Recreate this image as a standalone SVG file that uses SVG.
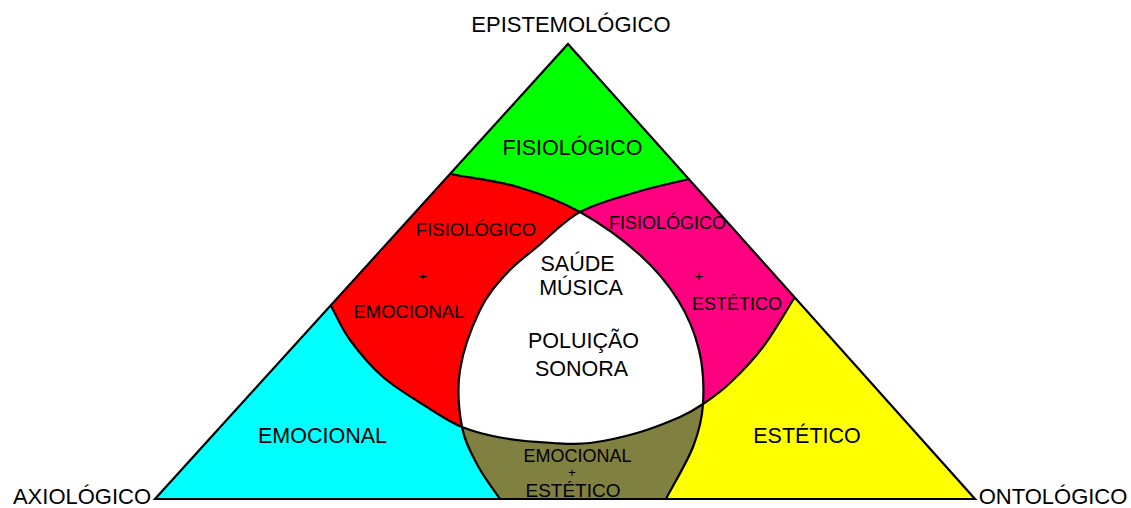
<svg xmlns="http://www.w3.org/2000/svg" width="1131" height="508" viewBox="0 0 1131 508">
<style>
text{font-family:"Liberation Sans",Arial,sans-serif;fill:#000;text-anchor:middle}
.big{font-size:21.5px}
.vert{font-size:22px}
.sm{font-size:18.5px}
.plus{font-size:15px}
.edge{fill:none;stroke:#000;stroke-width:2.2}
</style>
<defs>
<path id="pX" d="M0,560 L0,120 L400,163 L451,174 C470.7,178 496.5,180.7 518,187 C539.5,193.3 559.7,200.7 580,212 C600.3,223.3 623.7,240.3 640,255 C656.3,269.7 668.2,284.2 678,300 C687.8,315.8 694.8,332.7 699,350 C703.2,367.3 704,387.8 703,404 C702,420.2 699.2,431.2 693,447 C686.8,462.8 674,483.5 666,499 L645,540 Z"/>
<path id="pY" d="M1131,560 L1131,120 L740,166 L689,179 C671.8,183.3 655.2,186.5 637,192 C618.8,197.5 596.7,202.8 580,212 C563.3,221.2 549.2,236.8 537,247 C524.8,257.2 516.5,262.5 507,273 C497.5,283.5 487.8,293.8 480,310 C472.2,326.2 463,350.5 460,370 C457,389.5 459,411 462,427 C465,443 471.7,454 478,466 C484.3,478 492.7,488 500,499 L522,532 Z"/>
<path id="pZ" d="M0,0 L312,272 L331,306 C337.3,317.3 341.3,328.2 350,340 C358.7,351.8 370.2,365.8 383,377 C395.8,388.2 413.8,398.7 427,407 C440.2,415.3 449.3,421.8 462,427 C474.7,432.2 487.8,435.3 503,438 C518.2,440.7 538.5,442.2 553,443 C567.5,443.8 576,444.7 590,443 C604,441.3 622,437.3 637,433 C652,428.7 669,421.8 680,417 C691,412.2 694.7,409.7 703,404 C711.3,398.3 720,392.7 730,383 C740,373.5 752.2,361.3 763,347 C773.8,332.7 784.3,313.7 795,297 L827,247 L1131,0 Z"/>
<clipPath id="tri"><path d="M568,44 L975,499 L155,499 Z"/></clipPath>
<clipPath id="cz"><use href="#pZ"/></clipPath>
<clipPath id="cy"><use href="#pY"/></clipPath>
</defs>
<g id="regions" clip-path="url(#tri)">
<use id="emocional" href="#pX" fill="#00FFFF"/>
<use id="estetico" href="#pY" fill="#FFFF00"/>
<use id="fisiologico" href="#pZ" fill="#00FF00"/>
<g id="fisio-emocional" clip-path="url(#cz)"><use href="#pX" fill="#FF0000"/></g>
<g id="fisio-estetico" clip-path="url(#cz)"><use href="#pY" fill="#FF0080"/></g>
<g id="emocional-estetico" clip-path="url(#cy)"><use href="#pX" fill="#808040"/></g>
<g id="centro" clip-path="url(#cy)"><g clip-path="url(#cz)"><use href="#pX" fill="#FFFFFF"/></g></g>
</g>
<g id="connectors">
<path class="edge" d="M451,174 C470.7,178 496.5,180.7 518,187 C539.5,193.3 559.7,200.7 580,212 C600.3,223.3 623.7,240.3 640,255 C656.3,269.7 668.2,284.2 678,300 C687.8,315.8 694.8,332.7 699,350 C703.2,367.3 704,387.8 703,404 C702,420.2 699.2,431.2 693,447 C686.8,462.8 674,483.5 666,499"/>
<path class="edge" d="M689,179 C671.8,183.3 655.2,186.5 637,192 C618.8,197.5 596.7,202.8 580,212 C563.3,221.2 549.2,236.8 537,247 C524.8,257.2 516.5,262.5 507,273 C497.5,283.5 487.8,293.8 480,310 C472.2,326.2 463,350.5 460,370 C457,389.5 459,411 462,427 C465,443 471.7,454 478,466 C484.3,478 492.7,488 500,499"/>
<path class="edge" d="M331,306 C337.3,317.3 341.3,328.2 350,340 C358.7,351.8 370.2,365.8 383,377 C395.8,388.2 413.8,398.7 427,407 C440.2,415.3 449.3,421.8 462,427 C474.7,432.2 487.8,435.3 503,438 C518.2,440.7 538.5,442.2 553,443 C567.5,443.8 576,444.7 590,443 C604,441.3 622,437.3 637,433 C652,428.7 669,421.8 680,417 C691,412.2 694.7,409.7 703,404 C711.3,398.3 720,392.7 730,383 C740,373.5 752.2,361.3 763,347 C773.8,332.7 784.3,313.7 795,297"/>
<path class="edge" d="M568,44 L975,499 L155,499 Z" stroke-width="2.4"/>
</g>
<g id="labels-vertices">
<text class="vert" x="571" y="32">EPISTEMOLÓGICO</text>
<text class="vert" x="82" y="503.5">AXIOLÓGICO</text>
<text class="vert" x="1053" y="503.5">ONTOLÓGICO</text>
</g>
<g id="labels-regions">
<text class="big" x="572.5" y="155">FISIOLÓGICO</text>
<text class="big" x="322.5" y="443">EMOCIONAL</text>
<text class="big" x="807" y="443">ESTÉTICO</text>
<text class="sm" x="476" y="236" font-size="19">FISIOLÓGICO</text>
<text class="plus" x="423" y="281">+</text>
<text class="sm" x="409" y="318" font-size="19">EMOCIONAL</text>
<text class="sm" x="667.5" y="229" style="font-size:18px">FISIOLÓGICO</text>
<text class="plus" x="699" y="281">+</text>
<text class="sm" x="737" y="310" style="font-size:18px">ESTÉTICO</text>
<text class="sm" x="577.5" y="462" style="font-size:18px">EMOCIONAL</text>
<text class="plus" x="572" y="477" style="font-size:13px">+</text>
<text class="sm" x="573" y="497" style="font-size:19px">ESTÉTICO</text>
<text class="big" x="577.5" y="271">SAÚDE</text>
<text class="big" x="581" y="295">MÚSICA</text>
<text class="big" x="583.5" y="348">POLUIÇÃO</text>
<text class="big" x="581.5" y="376">SONORA</text>
</g>
</svg>
